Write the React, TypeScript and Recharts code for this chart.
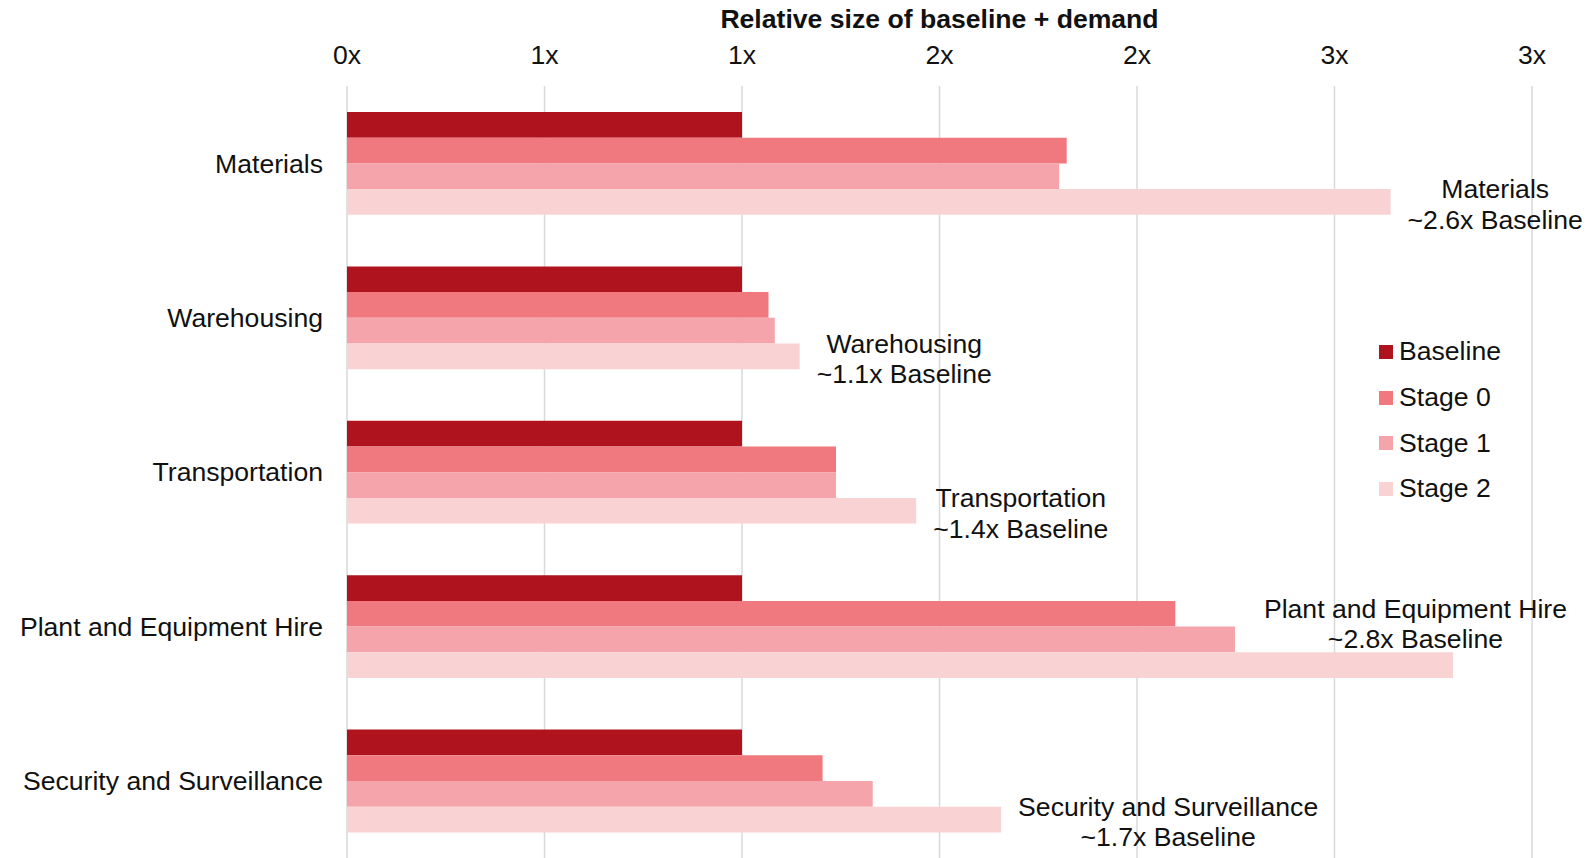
import { Bar, BarChart, CartesianGrid, LabelList, Legend, XAxis, YAxis } from "recharts";

const CATEGORIES = ["Materials", "Warehousing", "Transportation", "Plant and Equipment Hire", "Security and Surveillance"];
const BASELINE = [1.0, 1.0, 1.0, 1.0, 1.0];
const STAGE_0 = [1.822, 1.067, 1.238, 2.097, 1.204];
const STAGE_1 = [1.803, 1.083, 1.238, 2.248, 1.331];
const STAGE_2 = [2.642, 1.146, 1.441, 2.8, 1.656];
const MULTIPLIERS = ["~2.6x", "~1.1x", "~1.4x", "~2.8x", "~1.7x"];
const X_TICKS = [0, 0.5, 1, 1.5, 2, 2.5, 3];

const SERIES = [
  { key: "baseline", name: "Baseline", color: "#AF141E" },
  { key: "stage0", name: "Stage 0", color: "#F0787F" },
  { key: "stage1", name: "Stage 1", color: "#F4A4AA" },
  { key: "stage2", name: "Stage 2", color: "#F9D2D4" },
];

const data = CATEGORIES.map((category, i) => ({
  category,
  baseline: BASELINE[i],
  stage0: STAGE_0[i],
  stage1: STAGE_1[i],
  stage2: STAGE_2[i],
}));

const WIDTH = 1594;
const HEIGHT = 858;
const FONT = "'Liberation Sans', Arial, sans-serif";
const FONT_SIZE = 26.6;

let measureCtx: CanvasRenderingContext2D | null = null;
function textWidth(text: string): number {
  if (!measureCtx) measureCtx = document.createElement("canvas").getContext("2d");
  if (!measureCtx) return text.length * FONT_SIZE * 0.52;
  measureCtx.font = `${FONT_SIZE}px ${FONT}`;
  return measureCtx.measureText(text).width;
}

/** Two-line callout to the right of the Stage 2 bar; tucked up and in when it would run off the edge. */
function Annotation(props: any) {
  const { x, y, width, height, index } = props;
  const line1 = CATEGORIES[index];
  const line2 = `${MULTIPLIERS[index]} Baseline`;
  const w = Math.max(textWidth(line1), textWidth(line2));
  let cx = x + width + 17 + w / 2;
  let cy = y + height / 2 + 2.5;
  if (cx + w / 2 > WIDTH - 6) {
    cx = WIDTH - 27 - w / 2;
    cy -= height * 1.7;
  }
  const lineGap = 30.6;
  return (
    <text textAnchor="middle" fontSize={FONT_SIZE} fontFamily={FONT} fill="#111">
      <tspan x={cx} y={cy - lineGap / 2 + 9}>{line1}</tspan>
      <tspan x={cx} y={cy + lineGap / 2 + 9}>{line2}</tspan>
    </text>
  );
}

function LegendContent({ payload }: any) {
  return (
    <div style={{ fontFamily: FONT, fontSize: FONT_SIZE, color: "#111" }}>
      {(payload ?? []).map((entry: any) => (
        <div key={entry.value} style={{ display: "flex", alignItems: "center", height: 45.7 }}>
          <span style={{ width: 14, height: 14, background: entry.color, marginRight: 6, display: "inline-block" }} />
          <span>{entry.value}</span>
        </div>
      ))}
    </div>
  );
}

export default function App() {
  return (
    <div style={{ width: WIDTH, height: HEIGHT }}>
      <style>{"body{margin:0;overflow:hidden}"}</style>
      <BarChart
        width={WIDTH}
        height={HEIGHT}
        data={data}
        layout="vertical"
        margin={{ top: 0, right: 62, bottom: 0, left: 0 }}
        barGap={0}
        barSize={25.7}
      >
        <CartesianGrid horizontal={false} stroke="#D9D9D9" strokeWidth={1.5} />
        <XAxis
          type="number"
          orientation="top"
          domain={[0, 3]}
          ticks={X_TICKS}
          height={86}
          axisLine={false}
          tickLine={false}
          tickSize={6}
          tickMargin={16}
          tickFormatter={(v: number) => `${Math.round(v)}x`}
          tick={{ fontSize: FONT_SIZE, fontFamily: FONT, fill: "#111" }}
          label={{
            value: "Relative size of baseline + demand",
            position: "insideTop",
            offset: 9,
            fontSize: FONT_SIZE,
            fontWeight: "bold",
            fontFamily: FONT,
            fill: "#111",
          }}
        />
        <YAxis
          type="category"
          dataKey="category"
          width={347}
          axisLine={false}
          tickLine={false}
          tickSize={6}
          tickMargin={18}
          tick={{ fontSize: FONT_SIZE, fontFamily: FONT, fill: "#111" }}
        />
        <Legend
          layout="vertical"
          align="center"
          verticalAlign="middle"
          wrapperStyle={{ top: 329, left: 1379, width: 200 }}
          content={LegendContent}
        />
        {SERIES.map((s) => (
          <Bar key={s.key} dataKey={s.key} name={s.name} fill={s.color} isAnimationActive={false}>
            {s.key === "stage2" && <LabelList dataKey="stage2" content={Annotation} />}
          </Bar>
        ))}
      </BarChart>
    </div>
  );
}
